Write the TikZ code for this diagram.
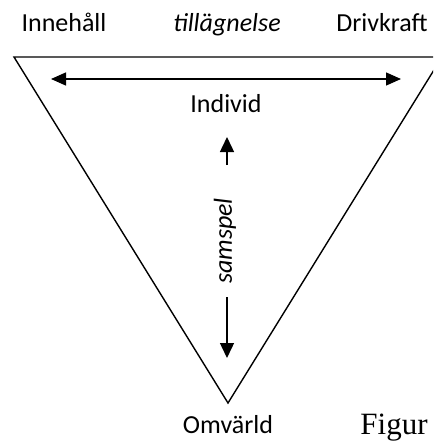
\documentclass[tikz,border=0pt]{standalone}
\usepackage{fontspec}
\setmainfont{Carlito}
\newfontfamily\figfont{Liberation Serif}
\usetikzlibrary{arrows.meta}
\tikzset{
  lbl/.style={font=\fontsize{26}{30}\selectfont, anchor=base, inner sep=0pt},
  ilbl/.style={font=\fontsize{26}{30}\selectfont\itshape, inner sep=0pt},
  edge/.style={line width=1.4pt},
  arr/.style={line width=1.4pt, -{Triangle[length=15pt,width=14pt]}},
  darr/.style={line width=1.4pt, {Triangle[length=15pt,width=13pt]}-{Triangle[length=15pt,width=13pt]}}
}
\begin{document}
\begin{tikzpicture}[x=1pt,y=1pt]
\useasboundingbox (0,0) rectangle (433,-441);
\clip (0,0) rectangle (433,-441);
% triangle
\coordinate (L) at (14,-57);
\coordinate (B) at (228,-403);
\coordinate (R) at (442,-57);
\draw[edge, line join=miter] (R) -- (L) -- (B) -- (R);
% top labels
\node[lbl] (inn) at (64,-32) {Innehåll};
\node[lbl, font=\fontsize{26}{30}\selectfont\itshape] (till) at (227,-32) {tillägnelse};
\node[lbl] (driv) at (382,-32) {Drivkraft};
% horizontal arrow
\coordinate (hl) at (51,-79);
\coordinate (hr) at (401,-79);
\draw[darr] (hl) -- (hr);
% individ
\node[lbl] (ind) at (226,-113) {Individ};
% samspel
\node[ilbl, rotate=90] (sam) at (225,-241) {samspel};
\coordinate (upS) at (227,-165);
\coordinate (upE) at (227,-137);
\coordinate (dnS) at (227,-297);
\coordinate (dnE) at (227,-358);
\draw[arr] (upS) -- (upE);
\draw[arr] (dnS) -- (dnE);
% bottom
\node[lbl] (omv) at (228,-433) {Omvärld};
\node[anchor=base, inner sep=0pt, font=\figfont\fontsize{31}{35}\selectfont] (fig) at (394,-434) {Figur};
\end{tikzpicture}
\end{document}
